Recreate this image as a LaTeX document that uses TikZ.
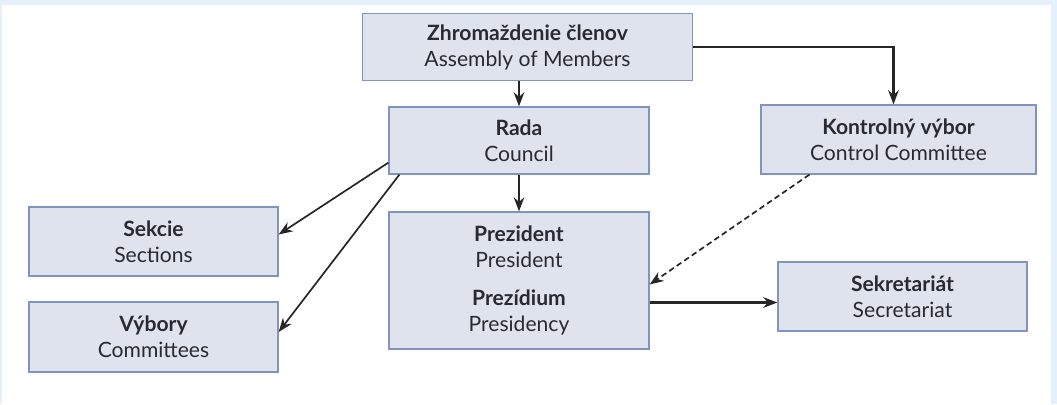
\documentclass[tikz,border=0pt]{standalone}
\usepackage{fontspec}
\setmainfont{Lato}
\usetikzlibrary{arrows.meta,calc}
\definecolor{boxfill}{HTML}{DFE3EE}
\definecolor{boxline}{HTML}{8194BE}
\definecolor{frameblue}{HTML}{E4F0FB}
\definecolor{txt}{HTML}{2A2A30}
\begin{document}
\begin{tikzpicture}[x=0.025cm, y=-0.025cm,
    every node/.style={font=\fontsize{15}{18.5}\selectfont, text=txt},
    box/.style={draw=boxline, fill=boxfill, line width=0.9pt, align=center, inner sep=0pt},
    arr/.style={-{Stealth[length=10pt,width=7.5pt]}, line width=1.2pt, draw=black!85},
    thick arr/.style={arr, line width=1.7pt}]
  % frame
  \fill[frameblue] (0,0) rectangle (1057,404);
  \fill[white] (2,5) rectangle (1051,404);
  \useasboundingbox (0,0) rectangle (1057,404);
  % boxes
  \node [box, minimum width=330*0.025cm, minimum height=67*0.025cm] (assembly) at (527.5,47) {\textbf{Zhromaždenie členov}\\Assembly of Members};
  \node [box, minimum width=260*0.025cm, minimum height=67*0.025cm] (council) at (519,140.5) {\textbf{Rada}\\Council};
  \node [box, minimum width=260*0.025cm, minimum height=137*0.025cm] (president) at (519,280.5) {\textbf{Prezident}\\President\\[9pt]\textbf{Prezídium}\\Presidency};
  \node [box, minimum width=249*0.025cm, minimum height=69*0.025cm] (sections) at (153.5,241.5) {\textbf{Sekcie}\\Sections};
  \node [box, minimum width=249*0.025cm, minimum height=70*0.025cm] (committees) at (153.5,337) {\textbf{Výbory}\\Committees};
  \node [box, minimum width=275*0.025cm, minimum height=69*0.025cm] (control) at (898.5,139.5) {\textbf{Kontrolný výbor}\\Control Committee};
  \node [box, minimum width=249*0.025cm, minimum height=69*0.025cm] (secretariat) at (902.5,296.5) {\textbf{Sekretariát}\\Secretariat};
  % connectors
  \coordinate (sec) at ($(secretariat.west)+(0,6)$);
  \draw [arr] (council.north |- assembly.south) -- (council.north);
  \draw [thick arr] (assembly.east) -| ($(control.north)+(-5,0)$);
  \draw [arr] (council.south) -- (president.north);
  \draw [arr] ($(council.south west)+(0,-12)$) -- ($(sections.east)+(0,-7)$);
  \draw [arr] ($(council.south west)+(11,0)$) -- ($(committees.east)+(0,-5)$);
  \draw [arr, dash pattern=on 4pt off 2.5pt] ($(control.south west)+(49,0)$) -- ($(president.east)+(0,4)$);
  \draw [thick arr] (president.east |- sec) -- (sec);
\end{tikzpicture}
\end{document}
